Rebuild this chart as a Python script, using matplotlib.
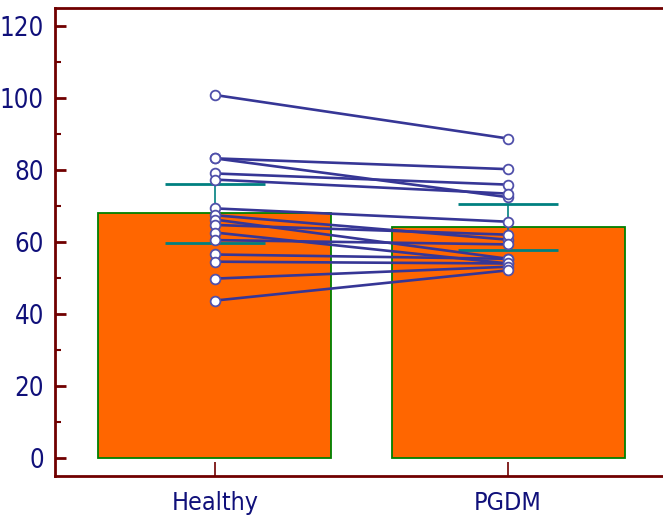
import numpy as np
import matplotlib
matplotlib.use("Agg")
import matplotlib.pyplot as plt
from matplotlib.ticker import MultipleLocator

# paired measurements, one row per subject (Healthy, PGDM)
groups = ["Healthy", "PGDM"]
healthy = [100.8, 83.2, 83.2, 79.0, 77.3, 69.3, 67.4, 66.2, 64.7, 62.6,
           60.5, 56.5, 54.5, 49.8, 43.7]
pgdm = [88.7, 80.2, 72.4, 75.9, 73.4, 65.6, 60.6, 55.3, 62.0, 54.0,
        59.3, 55.3, 54.0, 53.1, 52.1]

T_CRIT = 2.145  # t(0.975, df=14)

SPINE = "#700000"
TEXT = "#10107a"

plt.rcParams["font.family"] = ["DejaVu Sans"]
plt.rcParams["font.stretch"] = "condensed"

fig = plt.figure(figsize=(6.63, 5.23), dpi=100)
ax = fig.add_axes([0.083, 0.090, 0.928, 0.895])

data = np.array([healthy, pgdm])
means = data.mean(axis=1)
ci = T_CRIT * data.std(axis=1, ddof=1) / np.sqrt(data.shape[1])
x = np.arange(len(groups))

ax.bar(x, means, width=0.795, color="#ff6600", edgecolor="#008000",
       linewidth=1.3, zorder=1)

# 95% CI of the mean
for xi, m, c in zip(x, means, ci):
    ax.hlines([m - c, m + c], xi - 0.17, xi + 0.17, color="#008080",
              linewidth=2.0, zorder=2)
    ax.vlines(xi, m - c, m + c, color="#008080", linewidth=1.2, zorder=2)

for h, p in zip(healthy, pgdm):
    ax.plot(x, [h, p], color="#363696", linewidth=1.9, zorder=3,
            solid_capstyle="round")
ax.plot(np.repeat(x[:, None], data.shape[1], axis=1).ravel(), data.ravel(),
        linestyle="none", marker="o", markersize=7, markerfacecolor="white",
        markeredgecolor="#5050aa", markeredgewidth=1.3, zorder=4)

ax.set_xlim(-0.545, 1.553)
ax.set_ylim(-5, 125)
ax.set_xticks(x)
ax.set_xticklabels(groups)
ax.yaxis.set_major_locator(MultipleLocator(20))
ax.yaxis.set_minor_locator(MultipleLocator(10))
ax.set_yticks(np.arange(0, 121, 20))

for s in ax.spines.values():
    s.set_color(SPINE)
    s.set_linewidth(2.0)

ax.tick_params(axis="y", which="major", direction="in", length=8, width=2,
               color=SPINE, labelcolor=TEXT, labelsize=18.5, pad=8)
ax.tick_params(axis="y", which="minor", direction="in", length=4.5, width=1.5,
               color=SPINE)
ax.tick_params(axis="x", which="major", direction="in", length=10, width=1.2,
               color=SPINE, labelcolor=TEXT, labelsize=18, pad=11)

fig.savefig("out.png", dpi=100)
